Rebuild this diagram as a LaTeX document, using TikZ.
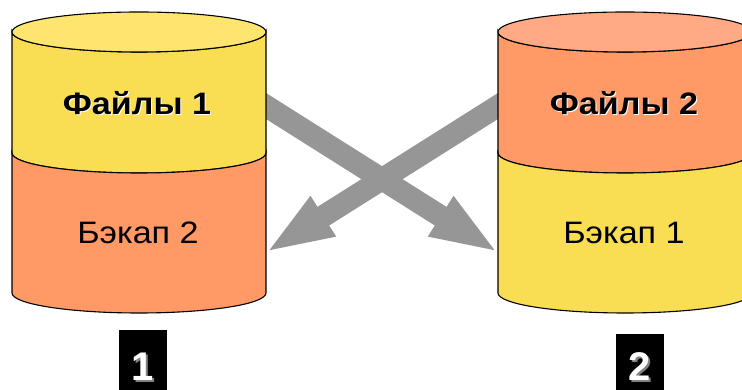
\documentclass[tikz,border=0pt]{standalone}
\usepackage{fontspec}
\setmainfont{Liberation Sans}
\usetikzlibrary{arrows.meta}
\definecolor{ylTop}{RGB}{253,229,112}
\definecolor{ylBody}{RGB}{249,221,82}
\definecolor{orTop}{RGB}{255,170,132}
\definecolor{orBody}{RGB}{255,153,102}
\definecolor{arrGray}{RGB}{150,150,150}
\tikzset{
  cylline/.style={draw=black, line width=1.1pt},
  bigarrow/.style={draw=arrGray, line width=22pt, -{Triangle[width=42pt,length=69pt]}},
  boldlabel/.style={font=\fontsize{31}{33}\selectfont\bfseries, text=black, xscale=1.1},
  normlabel/.style={font=\fontsize{31}{33}\selectfont, text=black, xscale=1.1},
  badge/.style={fill=black, draw=none},
  badgedigit/.style={font=\fontsize{40}{42}\selectfont\bfseries, text=white},
  badgeshadow/.style={font=\fontsize{40}{42}\selectfont\bfseries, text=gray},
}
% #1 = centre x, #2 = upper colour, #3 = top colour, #4 = lower colour
\newcommand{\mycyl}[4]{%
  \begin{scope}[shift={(#1,0)}]
    \path[cylline, fill=#2] (-127,358) -- (-127,237)
      arc[start angle=180, end angle=360, x radius=127, y radius=20]
      -- (127,358)
      arc[start angle=0, end angle=-180, x radius=127, y radius=20] -- cycle;
    \path[cylline, fill=#4] (-127,237)
      arc[start angle=180, end angle=360, x radius=127, y radius=20]
      -- (127,97)
      arc[start angle=0, end angle=-180, x radius=127, y radius=20] -- cycle;
    \path[cylline, fill=#3] (0,358) ellipse[x radius=127, y radius=20];
  \end{scope}}
\begin{document}
\begin{tikzpicture}[x=1pt,y=1pt]
  \useasboundingbox (0,0) rectangle (742,390);
  \clip (0,0) rectangle (742,390);
  \fill[white] (0,0) rectangle (742,390);
  % arrow end points
  \coordinate (aLs) at (240,300.4);
  \coordinate (aLe) at (499,137);
  \coordinate (aRs) at (524,300.4);
  \coordinate (aRe) at (265,137);
  \draw[bigarrow] (aLs) -- (aLe);
  \draw[bigarrow] (aRs) -- (aRe);
  % cylinders
  \mycyl{139}{ylBody}{ylTop}{orBody}
  \mycyl{625}{orBody}{orTop}{ylBody}
  % labels
  \node[boldlabel, text=white] at (138,286) {Файлы 1};
  \node[boldlabel] (f1) at (137,287) {Файлы 1};
  \node[normlabel] (b2) at (138,157) {Бэкап 2};
  \node[boldlabel, text=white] at (625,286) {Файлы 2};
  \node[boldlabel] (f2) at (624,287) {Файлы 2};
  \node[normlabel] (b1) at (624,157) {Бэкап 1};
  % badges
  \path[badge] (119,60) rectangle (167,-5);
  \node[badgeshadow] at (144.5,21.5) {1};
  \node[badgedigit] (n1) at (143,23) {1};
  \path[badge] (616,56) rectangle (664,-5);
  \node[badgeshadow] at (641.5,21.5) {2};
  \node[badgedigit] (n2) at (640,23) {2};
\end{tikzpicture}
\end{document}
